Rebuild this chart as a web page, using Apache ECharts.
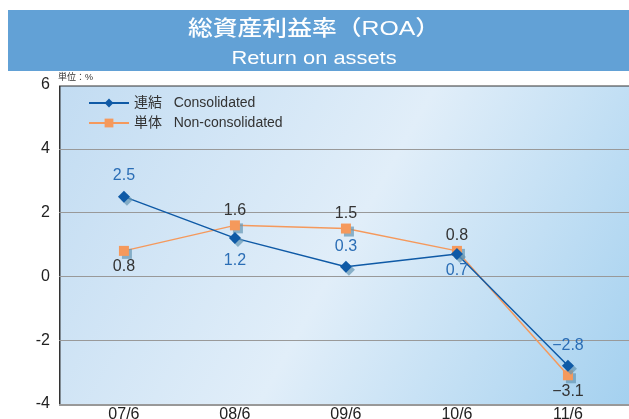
<!DOCTYPE html>
<html>
<head>
<meta charset="utf-8">
<script src="https://cdn.jsdelivr.net/npm/echarts@6/dist/echarts.min.js"></script>
<style>
  html, body { margin: 0; padding: 0; background: #fff; }
  #chart { width: 629px; height: 419px; }
</style>
</head>
<body>
<div id="chart"></div>
<script>
var categories = ['07/6', '08/6', '09/6', '10/6', '11/6'];
var consolidated = [2.5, 1.2, 0.3, 0.7, -2.8];
var nonConsolidated = [0.8, 1.6, 1.5, 0.8, -3.1];
var consLabelPos = ['top', 'bottom', 'top', 'bottom', 'top'];
var nonLabelPos = ['bottom', 'top', 'top', 'top', 'bottom'];
var consLabelDist = [7, 8, 6, 3, 6];
var nonLabelDist = [3, 2, 2, 2, 3];
var yTicks = [-4, -2, 0, 2, 4, 6];

function initRoaChart() {
    var _chart = echarts.init(document.getElementById('chart'));
    var font = '"Liberation Sans", Arial, sans-serif';
    var cjk = '"Liberation Sans", "Noto Sans CJK JP", sans-serif';

    function points(arr, pos, dist, color) {
        return arr.map(function (v, i) {
            return {
                value: [i, v],
                label: { position: pos[i], distance: dist[i], color: color }
            };
        });
    }
    function fmt(p) {
        var v = p.value[1];
        return v < 0 ? '\u2212' + Math.abs(v).toFixed(1) : v.toFixed(1);
    }

    var option = {
        animation: false,
        graphic: [
            // title band
            { type: 'rect', left: 8, top: 10, shape: { width: 621, height: 61 }, style: { fill: '#62a1d6' }, silent: true },
            { type: 'text', x: 314, y: 29, scaleX: 1.18, style: { text: '総資産利益率（ROA）', fill: '#fff', font: '500 21px ' + cjk, align: 'center', verticalAlign: 'middle' } },
            { type: 'text', x: 314, y: 59, scaleX: 1.15, style: { text: 'Return on assets', fill: '#fff', font: '19px ' + font, align: 'center', verticalAlign: 'middle' } },
            { type: 'text', left: 58, top: 73, style: { text: '単位：%', fill: '#333', font: '9px ' + cjk } },
            // plot background
            {
                type: 'rect', left: 59, top: 85, z: -10, silent: true,
                shape: { width: 575, height: 319 },
                style: {
                    fill: new echarts.graphic.LinearGradient(0, 0, 1, 1, [
                        { offset: 0, color: '#c2dcf2' },
                        { offset: 0.5, color: '#e1eef9' },
                        { offset: 1, color: '#a3d0ef' }
                    ]),
                    stroke: '#333', lineWidth: 1.5
                }
            }
        ],
        legend: {
            left: 83, top: 91, orient: 'vertical', itemGap: 6,
            itemWidth: 40, itemHeight: 11,
            textStyle: { fontFamily: cjk, fontSize: 14, color: '#333' },
            data: ['連結   Consolidated', '単体   Non-consolidated']
        },
        grid: { left: 59, top: 85, right: 0, bottom: 15, outerBoundsMode: 'none' },
        xAxis: {
            type: 'value',
            min: -0.585,
            max: 4.55,
            axisLine: { show: false },
            axisTick: { show: false },
            splitLine: { show: false },
            axisLabel: {
                customValues: [0, 1, 2, 3, 4],
                margin: 3,
                fontFamily: font, fontSize: 16, color: '#222',
                formatter: function (v) { return categories[Math.round(v)]; }
            }
        },
        yAxis: {
            type: 'value',
            min: yTicks[0],
            max: yTicks[yTicks.length - 1],
            interval: 2,
            axisLine: { show: false },
            axisTick: { show: false },
            splitLine: { lineStyle: { color: '#999', width: 1.2 } },
            axisLabel: {
                margin: 9, fontFamily: font, fontSize: 16, color: '#222'
            }
        },
        series: [
            {
                name: '連結   Consolidated',
                type: 'line',
                z: 3,
                symbol: 'diamond',
                symbolSize: 12,
                color: '#0f5aa6',
                lineStyle: { width: 1.5, color: '#0f5aa6' },
                itemStyle: { color: '#0f5aa6', shadowColor: 'rgba(100,150,180,0.7)', shadowOffsetX: 3, shadowOffsetY: 3, shadowBlur: 0 },
                label: { show: true, fontFamily: font, fontSize: 16, formatter: fmt },
                data: points(consolidated, consLabelPos, consLabelDist, '#2a6db5')
            },
            {
                name: '単体   Non-consolidated',
                type: 'line',
                z: 2,
                symbol: 'rect',
                symbolSize: 10,
                color: '#f5995c',
                lineStyle: { width: 1.5, color: '#f5995c' },
                itemStyle: { color: '#f5995c', shadowColor: 'rgba(100,150,180,0.7)', shadowOffsetX: 3, shadowOffsetY: 3, shadowBlur: 0 },
                label: { show: true, fontFamily: font, fontSize: 16, formatter: fmt },
                data: points(nonConsolidated, nonLabelPos, nonLabelDist, '#333')
            }
        ]
    };
    _chart.setOption(option);
    window.addEventListener('resize', function () {
        _chart.resize();
    });
}

initRoaChart();
</script>
</body>
</html>
